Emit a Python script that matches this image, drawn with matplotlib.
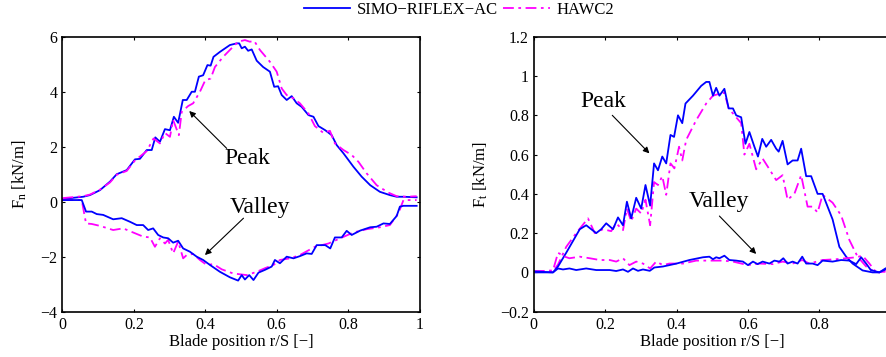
import matplotlib
matplotlib.use('Agg')
import matplotlib.pyplot as plt
from matplotlib.ticker import FuncFormatter, MultipleLocator

plt.rcParams['font.family'] = ['Liberation Serif', 'DejaVu Serif']
plt.rcParams['mathtext.fontset'] = 'custom'
plt.rcParams['mathtext.rm'] = 'Liberation Serif'
plt.rcParams['mathtext.it'] = 'Liberation Serif:italic'

# ---- normal force Fn, peak ----
fn_peak_simo_r = [0, 0.058, 0.077, 0.105, 0.133, 0.152, 0.18, 0.203, 0.217, 0.236, 0.25, 0.26, 0.273,
                  0.287, 0.301, 0.312, 0.324, 0.337, 0.348, 0.362, 0.371, 0.382, 0.394, 0.406, 0.415,
                  0.423, 0.441, 0.469, 0.488, 0.495, 0.502, 0.511, 0.52, 0.53, 0.544, 0.562, 0.581,
                  0.593, 0.604, 0.614, 0.628, 0.642, 0.656, 0.67, 0.689, 0.703, 0.717, 0.736, 0.754,
                  0.768, 0.787, 0.815, 0.838, 0.862, 0.889, 0.917, 0.936, 0.955, 0.992]
fn_peak_simo = [0.1, 0.18, 0.24, 0.42, 0.73, 1.0, 1.15, 1.54, 1.56, 1.88, 1.88, 2.34, 2.18,
                2.64, 2.6, 3.09, 2.87, 3.7, 3.7, 4.0, 4.0, 4.55, 4.6, 4.97, 4.95,
                5.27, 5.45, 5.7, 5.76, 5.76, 5.58, 5.64, 5.49, 5.54, 5.13, 4.9, 4.73,
                4.18, 4.2, 3.88, 3.7, 3.84, 3.58, 3.45, 3.15, 3.09, 2.75, 2.6, 2.42,
                2.06, 1.76, 1.27, 0.91, 0.6, 0.36, 0.24, 0.18, 0.18, 0.16]

fn_peak_hawc_r = [0, 0.058, 0.077, 0.105, 0.133, 0.152, 0.18, 0.203, 0.236, 0.255, 0.273, 0.287,
                  0.301, 0.31, 0.326, 0.334, 0.352, 0.366, 0.385, 0.4, 0.415, 0.427, 0.45, 0.478,
                  0.492, 0.511, 0.525, 0.537, 0.553, 0.581, 0.6, 0.614, 0.628, 0.647, 0.665, 0.689,
                  0.707, 0.731, 0.749, 0.763, 0.787, 0.81, 0.829, 0.852, 0.88, 0.913, 0.936, 0.964, 0.992]
fn_peak_hawc = [0.13, 0.2, 0.26, 0.44, 0.7, 0.98, 1.12, 1.5, 1.84, 2.3, 2.12, 2.5,
                2.36, 2.97, 2.42, 3.27, 3.48, 3.58, 4.0, 4.42, 4.48, 4.9, 5.27, 5.64,
                5.82, 5.88, 5.82, 5.85, 5.52, 5.09, 4.73, 4.12, 3.88, 3.76, 3.58, 3.21,
                2.75, 2.5, 2.58, 2.12, 1.88, 1.7, 1.45, 1.03, 0.6, 0.33, 0.2, 0.18, 0.2]

# ---- normal force Fn, valley ----
fn_valley_simo_r = [0, 0.054, 0.066, 0.082, 0.096, 0.114, 0.142, 0.166, 0.189, 0.208, 0.226, 0.24,
                    0.254, 0.268, 0.282, 0.296, 0.31, 0.324, 0.338, 0.357, 0.376, 0.394, 0.413, 0.441,
                    0.469, 0.492, 0.502, 0.511, 0.523, 0.535, 0.549, 0.567, 0.586, 0.595, 0.609, 0.628,
                    0.647, 0.665, 0.684, 0.698, 0.712, 0.736, 0.75, 0.763, 0.782, 0.796, 0.81, 0.834,
                    0.862, 0.88, 0.899, 0.917, 0.936, 0.945, 0.955, 0.992]
fn_valley_simo = [0.06, 0.06, -0.36, -0.36, -0.45, -0.48, -0.64, -0.6, -0.73, -0.85, -0.85, -1.03,
                  -0.97, -1.21, -1.3, -1.33, -1.49, -1.42, -1.7, -1.82, -2.0, -2.12, -2.3, -2.55,
                  -2.75, -2.87, -2.67, -2.83, -2.67, -2.85, -2.58, -2.48, -2.36, -2.12, -2.24, -2.0,
                  -2.06, -1.98, -1.88, -1.9, -1.58, -1.58, -1.7, -1.3, -1.3, -1.06, -1.21, -1.05,
                  -0.93, -0.91, -0.79, -0.81, -0.52, -0.18, -0.15, -0.15]

fn_valley_hawc_r = [0, 0.054, 0.066, 0.082, 0.105, 0.142, 0.17, 0.198, 0.226, 0.245, 0.259, 0.273,
                    0.287, 0.296, 0.31, 0.324, 0.338, 0.348, 0.366, 0.385, 0.404, 0.423, 0.446, 0.478,
                    0.516, 0.544, 0.567, 0.591, 0.609, 0.637, 0.665, 0.707, 0.745, 0.778, 0.815, 0.852,
                    0.889, 0.917, 0.941, 0.955, 0.992]
fn_valley_hawc = [0.06, 0.06, -0.79, -0.81, -0.88, -1.03, -0.97, -1.12, -1.27, -1.3, -1.64, -1.33,
                  -1.52, -1.39, -1.88, -1.45, -2.06, -1.94, -1.9, -2.12, -2.3, -2.27, -2.46, -2.61,
                  -2.67, -2.55, -2.42, -2.3, -2.12, -2.06, -1.94, -1.64, -1.52, -1.33, -1.12, -1.0,
                  -0.93, -0.85, -0.42, 0.06, 0.06]

# ---- tangential force Ft, peak ----
ft_peak_simo_r = [0, 0.054, 0.068, 0.091, 0.11, 0.129, 0.147, 0.161, 0.175, 0.189, 0.203, 0.222, 0.236,
                  0.25, 0.261, 0.273, 0.287, 0.301, 0.313, 0.326, 0.337, 0.348, 0.36, 0.371, 0.383,
                  0.393, 0.404, 0.416, 0.425, 0.446, 0.469, 0.483, 0.492, 0.502, 0.511, 0.52, 0.534,
                  0.546, 0.558, 0.567, 0.581, 0.593, 0.604, 0.618, 0.628, 0.64, 0.651, 0.665, 0.679,
                  0.686, 0.697, 0.711, 0.725, 0.739, 0.749, 0.763, 0.777, 0.795, 0.809, 0.837, 0.856,
                  0.875, 0.893, 0.921, 0.949, 0.968, 0.985, 1.0]
ft_peak_simo = [0.0, 0.0, 0.03, 0.1, 0.16, 0.22, 0.24, 0.22, 0.2, 0.22, 0.25, 0.22, 0.28,
                0.24, 0.36, 0.275, 0.38, 0.325, 0.445, 0.34, 0.555, 0.52, 0.59, 0.555, 0.7,
                0.69, 0.8, 0.76, 0.86, 0.9, 0.95, 0.97, 0.97, 0.9, 0.94, 0.9, 0.935,
                0.835, 0.835, 0.8, 0.79, 0.655, 0.715, 0.64, 0.59, 0.68, 0.64, 0.675, 0.63,
                0.615, 0.67, 0.55, 0.57, 0.57, 0.63, 0.49, 0.49, 0.4, 0.4, 0.27, 0.13,
                0.08, 0.045, 0.01, 0.0, 0.0, 0.02, 0.03]

ft_peak_hawc_r = [0, 0.054, 0.068, 0.091, 0.119, 0.152, 0.171, 0.194, 0.217, 0.231, 0.25, 0.261, 0.273,
                  0.287, 0.301, 0.313, 0.326, 0.337, 0.348, 0.36, 0.371, 0.383, 0.394, 0.407, 0.416,
                  0.427, 0.455, 0.483, 0.502, 0.52, 0.534, 0.546, 0.567, 0.581, 0.59, 0.604, 0.623,
                  0.641, 0.655, 0.679, 0.697, 0.711, 0.73, 0.749, 0.767, 0.781, 0.795, 0.809, 0.837,
                  0.861, 0.884, 0.907, 0.931, 0.954, 0.968, 0.985]
ft_peak_hawc = [0.005, 0.005, 0.04, 0.13, 0.2, 0.275, 0.2, 0.22, 0.21, 0.25, 0.215, 0.325, 0.26,
                0.325, 0.3, 0.37, 0.24, 0.46, 0.445, 0.49, 0.395, 0.555, 0.53, 0.64, 0.57,
                0.675, 0.775, 0.86, 0.9, 0.91, 0.915, 0.835, 0.79, 0.76, 0.6, 0.655, 0.525,
                0.58, 0.54, 0.47, 0.495, 0.37, 0.4, 0.495, 0.335, 0.335, 0.305, 0.395, 0.355,
                0.29, 0.165, 0.08, 0.03, 0.003, 0.0, 0.01]

# ---- tangential force Ft, valley ----
ft_valley_simo_r = [0, 0.054, 0.068, 0.082, 0.1, 0.119, 0.147, 0.175, 0.213, 0.231, 0.25, 0.264,
                    0.278, 0.292, 0.306, 0.325, 0.338, 0.362, 0.4, 0.436, 0.474, 0.492, 0.502, 0.511,
                    0.52, 0.534, 0.548, 0.567, 0.586, 0.6, 0.614, 0.627, 0.641, 0.66, 0.674, 0.688,
                    0.699, 0.711, 0.725, 0.739, 0.752, 0.763, 0.781, 0.795, 0.809, 0.837, 0.861, 0.884,
                    0.903, 0.917, 0.931, 0.944, 0.968, 0.985]
ft_valley_simo = [0.005, 0.0, 0.02, 0.015, 0.02, 0.012, 0.02, 0.012, 0.012, 0.007, 0.015, 0.003,
                  0.02, 0.008, 0.015, 0.008, 0.025, 0.03, 0.045, 0.063, 0.077, 0.08, 0.067, 0.077,
                  0.072, 0.085, 0.063, 0.06, 0.055, 0.037, 0.055, 0.042, 0.055, 0.045, 0.06, 0.055,
                  0.072, 0.045, 0.055, 0.045, 0.08, 0.045, 0.045, 0.037, 0.06, 0.055, 0.063, 0.06,
                  0.042, 0.077, 0.045, 0.012, 0.0, 0.015]

ft_valley_hawc_r = [0, 0.054, 0.068, 0.087, 0.1, 0.129, 0.157, 0.185, 0.213, 0.231, 0.25, 0.268,
                    0.287, 0.306, 0.326, 0.343, 0.362, 0.38, 0.418, 0.455, 0.492, 0.529, 0.558, 0.6,
                    0.632, 0.67, 0.697, 0.725, 0.752, 0.772, 0.809, 0.847, 0.875, 0.903, 0.921, 0.94,
                    0.958, 0.985]
ft_valley_hawc = [0.005, 0.01, 0.1, 0.08, 0.072, 0.08, 0.072, 0.063, 0.063, 0.055, 0.072, 0.037,
                  0.055, 0.045, 0.02, 0.055, 0.037, 0.045, 0.045, 0.06, 0.06, 0.06, 0.055, 0.037,
                  0.045, 0.042, 0.055, 0.045, 0.063, 0.045, 0.063, 0.067, 0.072, 0.077, 0.085, 0.045,
                  0.003, 0.003]

SIMO_COLOR = '#0000ff'
HAWC_COLOR = '#ff00ff'
DASHDOT = (0, (6, 2.5, 1.5, 2.5))


def fmt(v, pos):
    return ('%g' % v).replace('-', '\u2212')


def style_axes(ax):
    ax.tick_params(direction='in', top=True, right=True, labelsize=11.5, length=2.5, width=0.8)
    ax.xaxis.set_major_formatter(FuncFormatter(fmt))
    ax.yaxis.set_major_formatter(FuncFormatter(fmt))
    for s in ax.spines.values():
        s.set_linewidth(1.2)


fig = plt.figure(figsize=(8.86, 3.57), dpi=100)
ax1 = fig.add_axes([0.0705, 0.127, 0.403, 0.770])
ax2 = fig.add_axes([0.6024, 0.127, 0.403, 0.770])

# left: normal force
l1, = ax1.plot(fn_peak_simo_r, fn_peak_simo, color=SIMO_COLOR, lw=1.3, label='SIMO\u2212RIFLEX\u2212AC')
l2, = ax1.plot(fn_peak_hawc_r, fn_peak_hawc, color=HAWC_COLOR, lw=1.3, ls=DASHDOT, label='HAWC2')
ax1.plot(fn_valley_hawc_r, fn_valley_hawc, color=HAWC_COLOR, lw=1.3, ls=DASHDOT)
ax1.plot(fn_valley_simo_r, fn_valley_simo, color=SIMO_COLOR, lw=1.3)
ax1.set_xlim(0, 1)
ax1.set_ylim(-4, 6)
ax1.xaxis.set_major_locator(MultipleLocator(0.2))
ax1.yaxis.set_major_locator(MultipleLocator(2))
ax1.set_xlabel('Blade position r/S [\u2212]', fontsize=12, labelpad=1)
ax1.set_ylabel(r'F$_\mathrm{n}$ [kN/m]', fontsize=12, labelpad=8)
style_axes(ax1)

arrow = dict(arrowstyle='-|>', color='k', lw=0.8, mutation_scale=9, shrinkA=0, shrinkB=0)
ax1.annotate('', xy=(0.355, 3.3), xytext=(0.46, 1.94), arrowprops=arrow)
ax1.text(0.518, 1.58, 'Peak', fontsize=17, ha='center', va='center')
ax1.annotate('', xy=(0.399, -1.94), xytext=(0.507, -0.6), arrowprops=arrow)
ax1.text(0.553, -0.2, 'Valley', fontsize=17, ha='center', va='center')

# right: tangential force (frame runs past the right edge of the picture)
ax2.plot(ft_peak_hawc_r, ft_peak_hawc, color=HAWC_COLOR, lw=1.3, ls=DASHDOT)
ax2.plot(ft_peak_simo_r, ft_peak_simo, color=SIMO_COLOR, lw=1.3)
ax2.plot(ft_valley_hawc_r, ft_valley_hawc, color=HAWC_COLOR, lw=1.3, ls=DASHDOT)
ax2.plot(ft_valley_simo_r, ft_valley_simo, color=SIMO_COLOR, lw=1.3)
ax2.set_xlim(0, 1)
ax2.set_ylim(-0.2, 1.2)
ax2.set_xticks([0, 0.2, 0.4, 0.6, 0.8])
ax2.yaxis.set_major_locator(MultipleLocator(0.2))
ax2.set_xlabel('Blade position r/S [\u2212]', fontsize=12, labelpad=1)
ax2.set_ylabel(r'F$_\mathrm{t}$ [kN/m]', fontsize=12, labelpad=7)
style_axes(ax2)

ax2.annotate('', xy=(0.324, 0.606), xytext=(0.22, 0.8), arrowprops=arrow)
ax2.text(0.194, 0.869, 'Peak', fontsize=17, ha='center', va='center')
ax2.annotate('', xy=(0.623, 0.094), xytext=(0.52, 0.287), arrowprops=arrow)
ax2.text(0.52, 0.36, 'Valley', fontsize=17, ha='center', va='center')

fig.legend(handles=[l1, l2], loc='center', bbox_to_anchor=(0.518, 0.972), ncol=2, frameon=False,
           fontsize=12, handlelength=2.8, handletextpad=0.4, columnspacing=0.3, borderpad=0)

fig.savefig('out.png', dpi=100)
